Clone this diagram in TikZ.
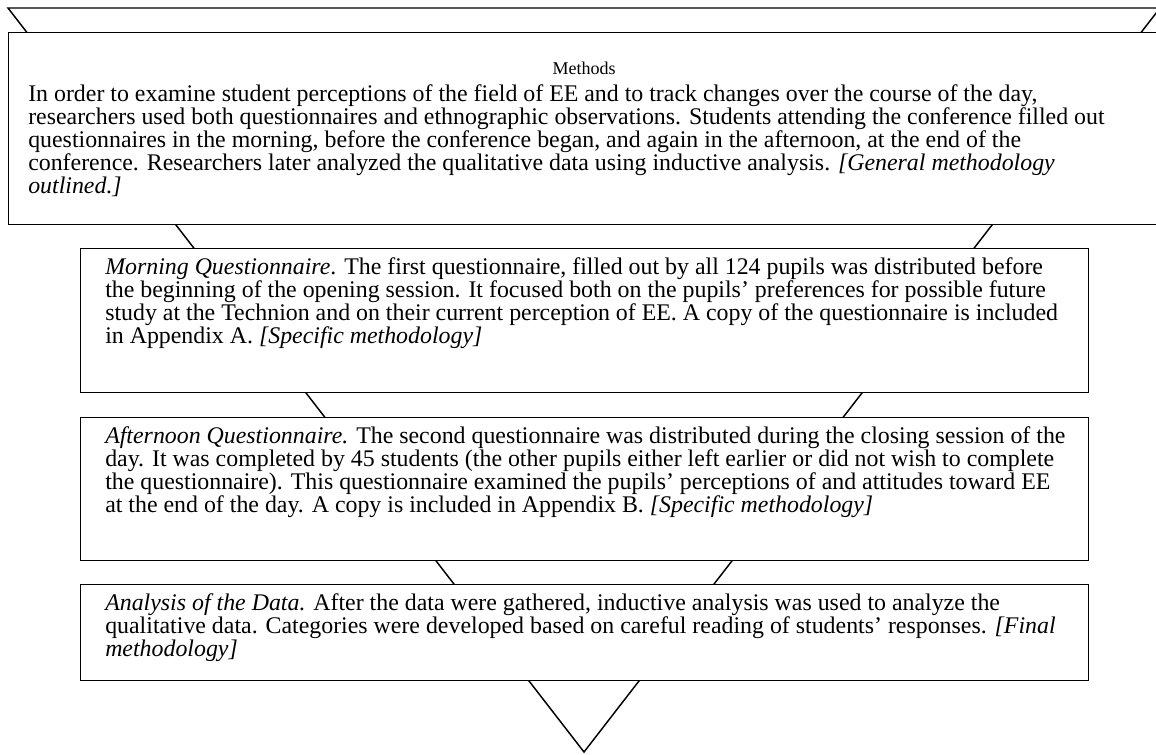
\documentclass[tikz,border=0pt]{standalone}
\usepackage{fontspec}
\setmainfont{Liberation Serif}
\usepackage{tikz}
\tikzset{box/.style={draw,fill=white,line width=1.1pt,anchor=north west,inner sep=0pt}}
\tikzset{txt/.style={anchor=north west,align=left,inner sep=0pt,font=\fontsize{17.9}{17.25}\selectfont}}
\tikzset{ttl/.style={font=\fontsize{13.5}{13.5}\selectfont}}

\begin{document}
\begin{tikzpicture}[x=0.75pt,y=-0.75pt,line join=miter]
            \useasboundingbox (0,0) rectangle (1156,754);
            % the funnel behind the boxes
            \draw[line width=1.1pt] (8,8)--(1160,8)--(584,752)--cycle;
            \node[box,minimum width=1152*0.75pt,minimum height=192*0.75pt] (methods) at (8,32) {};
            \node[box,minimum width=1008*0.75pt,minimum height=144*0.75pt] (morning) at (80,248) {};
            \node[box,minimum width=1008*0.75pt,minimum height=143*0.75pt] (afternoon) at (80,417) {};
            \node[box,minimum width=1008*0.75pt,minimum height=96*0.75pt] (analysis) at (80,584) {};
            \node[ttl] (title) at (584,68) {Methods};
            \node[txt] (methodstext) at (28,84) {In order to examine student perceptions of the field of EE and to track changes over the course of the day,\\
              researchers used both questionnaires and ethnographic observations. Students attending the conference filled out\\
              questionnaires in the morning, before the conference began, and again in the afternoon, at the end of the\\
              conference. Researchers later analyzed the qualitative data using inductive analysis. \textit{[General methodology}\\
              \textit{outlined.]}};
            \node[txt] (morningtext) at (105,257) {\textit{Morning Questionnaire}. The first questionnaire, filled out by all 124 pupils was distributed before\\
              the beginning of the opening session. It focused both on the pupils' preferences for possible future\\
              study at the Technion and on their current perception of EE. A copy of the questionnaire is included\\
              in Appendix A. \textit{[Specific methodology]}};
            \node[txt] (afternoontext) at (105,426) {\textit{Afternoon Questionnaire.} The second questionnaire was distributed during the closing session of the\\
              day. It was completed by 45 students (the other pupils either left earlier or did not wish to complete\\
              the questionnaire). This questionnaire examined the pupils' perceptions of and attitudes toward EE\\
              at the end of the day. A copy is included in Appendix B. \textit{[Specific methodology]}};
            \node[txt] (analysistext) at (105,593) {\textit{Analysis of the Data.} After the data were gathered, inductive analysis was used to analyze the\\
              qualitative data. Categories were developed based on careful reading of students' responses. \textit{[Final}\\
              \textit{methodology]}};
          \end{tikzpicture}
\end{document}
